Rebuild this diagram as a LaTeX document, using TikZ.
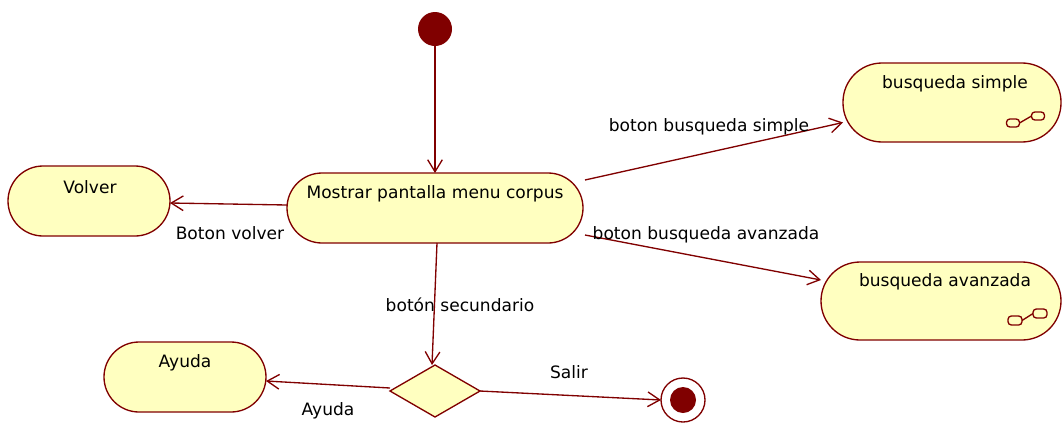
\documentclass[tikz,border=0pt]{standalone}
\usepackage{fontspec}
\setmainfont{DejaVu Sans}
\usetikzlibrary{arrows.meta,shapes.geometric,calc}
\definecolor{dred}{RGB}{128,0,0}
\definecolor{pale}{RGB}{255,255,192}
\begin{document}
\begin{tikzpicture}[x=0.75pt,y=-0.75pt,
  every node/.style={inner sep=0pt,outer sep=0pt},
  txt/.style={font=\fontsize{12.8pt}{15pt}\selectfont,text=black},
  act/.style={draw=dred,fill=pale,line width=1pt,rounded corners=#1*0.75pt,rectangle},
  flow/.style={draw=dred,line width=1pt,-{Straight Barb[length=9pt,width=11pt,line width=1pt]}},
  icon/.style={draw=dred,line width=1pt,rounded corners=2.5pt,fill=pale}]
\useasboundingbox (0,0) rectangle (1063,422);
% initial and final
\node[circle,fill=dred,minimum size=34*0.75pt] (ini) at (435,29) {};
\node[circle,draw=dred,line width=1pt,fill=white,minimum size=44*0.75pt] (fin) at (683,400) {};
\node[circle,fill=dred,minimum size=26*0.75pt] (finc) at (683,400) {};
% activities
\node[act=35,minimum width=296*0.75pt,minimum height=70*0.75pt] (m) at (435,208) {};
\node[txt] (mt) at (435,194) {Mostrar pantalla menu corpus};
\node[act=35,minimum width=162*0.75pt,minimum height=70*0.75pt] (v) at (89,201) {};
\node[txt] (vt) at (90,187) {Volver};
\node[act=35,minimum width=162*0.75pt,minimum height=70*0.75pt] (a) at (185,377) {};
\node[txt] (at) at (185,363) {Ayuda};
\node[act=39,minimum width=218*0.75pt,minimum height=79*0.75pt] (bs) at (952,102.5) {};
\node[txt] (bst) at (955,84) {busqueda simple};
\node[act=39,minimum width=240*0.75pt,minimum height=78*0.75pt] (ba) at (941,301) {};
\node[txt] (bat) at (945,282) {busqueda avanzada};
% decision
\node[diamond,draw=dred,fill=pale,line width=1pt,minimum width=90*0.75pt,minimum height=52*0.75pt,aspect=1.7] (d) at (435,391) {};
% subactivity icons
\node[icon,minimum width=13*0.75pt,minimum height=8*0.75pt] (s1) at (1013,123) {};
\node[icon,minimum width=13*0.75pt,minimum height=8*0.75pt] (s2) at (1038,116) {};
\draw[dred,line width=1pt] (s1.east) -- (s2.west);
\node[icon,minimum width=14*0.75pt,minimum height=9*0.75pt] (r1) at (1015,320.5) {};
\node[icon,minimum width=14*0.75pt,minimum height=9*0.75pt] (r2) at (1040,313.5) {};
\draw[dred,line width=1pt] (r1.east) -- (r2.west);
% connectors
\draw[flow] (ini) -- (m.north);
\draw[flow] ([yshift=3*0.75pt]m.west) -- ([yshift=-2*0.75pt]v.east);
\draw[flow] ([xshift=2*0.75pt,yshift=28*0.75pt]m.east) -- ([yshift=-20*0.75pt]bs.west);
\draw[flow] ([xshift=2*0.75pt,yshift=-27*0.75pt]m.east) -- ([yshift=21*0.75pt]ba.west);
\draw[flow] ([xshift=2*0.75pt]m.south) -- ([xshift=-3*0.75pt]d.north);
\draw[flow] ([yshift=3*0.75pt]d.west) -- ([yshift=-4*0.75pt]a.east);
\draw[flow] (d.east) -- (fin.west);
% labels
\node[txt] (l1) at (709,127) {boton busqueda simple};
\node[txt] (l2) at (706,235) {boton busqueda avanzada};
\node[txt] (l3) at (230,233) {Boton volver};
\node[txt] (l4) at (460,305) {botón secundario};
\node[txt] (l5) at (328,411) {Ayuda};
\node[txt] (l6) at (569,372) {Salir};
\end{tikzpicture}
\end{document}
